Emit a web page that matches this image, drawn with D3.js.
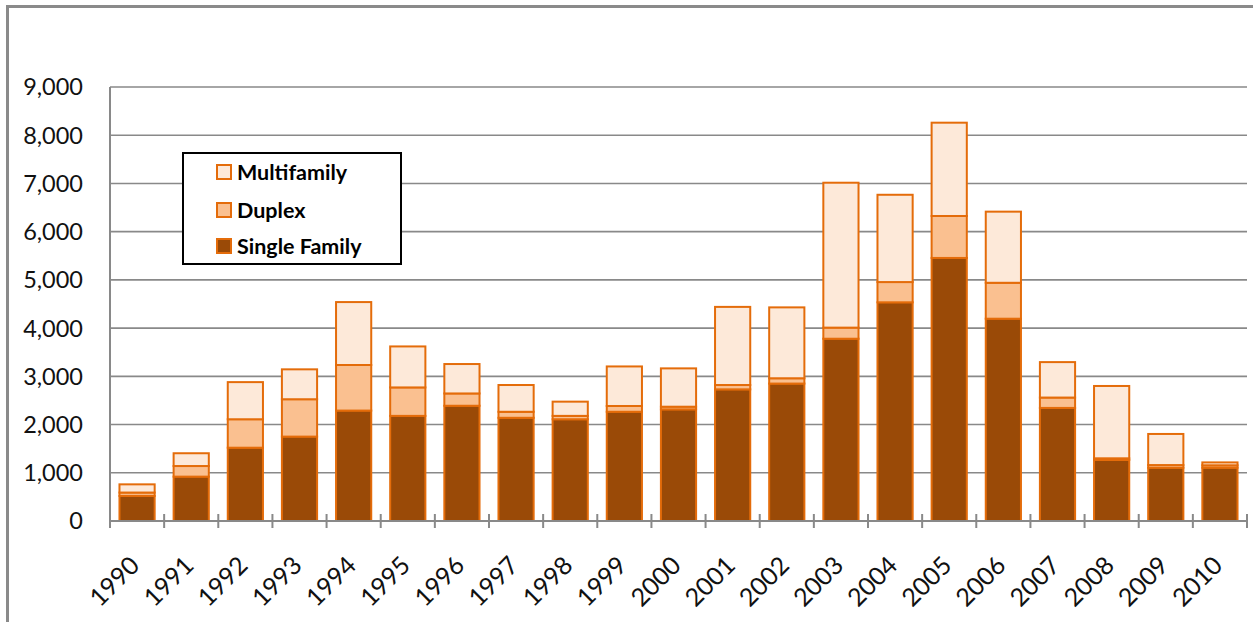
<!DOCTYPE html>
<html>
<head>
<meta charset="utf-8">
<script src="https://cdn.jsdelivr.net/npm/d3@7"></script>
<style>
  html, body { margin: 0; padding: 0; background: #fff; }
  svg { display: block; font-family: Lato, "Open Sans", sans-serif; }
</style>
</head>
<body>
<svg id="chart" width="1253" height="622"></svg>
<script>
const years = ["1990","1991","1992","1993","1994","1995","1996","1997","1998","1999","2000","2001","2002","2003","2004","2005","2006","2007","2008","2009","2010"];
const singleFamily = [520, 920, 1520, 1750, 2290, 2180, 2390, 2140, 2110, 2265, 2315, 2730, 2850, 3780, 4535, 5455, 4195, 2345, 1265, 1105, 1105];
const duplex       = [70, 220, 590, 775, 945, 590, 255, 125, 70, 120, 55, 90, 110, 230, 420, 870, 745, 215, 35, 55, 50];
const multifamily  = [170, 265, 770, 620, 1305, 850, 610, 555, 295, 820, 795, 1620, 1470, 3005, 1810, 1935, 1475, 735, 1500, 645, 60];
const yTicks = [0, 1000, 2000, 3000, 4000, 5000, 6000, 7000, 8000, 9000];
const seriesNames = ["Single Family", "Duplex", "Multifamily"];
const seriesColors = ["#9A4A07", "#FAC090", "#FDE9D9"];
const legendOrder = ["Multifamily", "Duplex", "Single Family"];

(function () {
const svg = d3.select("#chart");
const stroke = "#E46C0A";
const gridColor = "#898989";

// outer frame (chart area border, extends past the viewport)
svg.append("rect").attr("x", 7.5).attr("y", 6.5).attr("width", 1400).attr("height", 800)
  .attr("fill", "none").attr("stroke", "#8a8a8a").attr("stroke-width", 3);

const pLeft = 110, pRight = 1247, pTop = 87, pBottom = 521;
const x = d3.scaleBand().domain(years).range([pLeft, pRight]).paddingInner(0.35).paddingOuter(0.175);
const xb = d3.scaleBand().domain(years).range([pLeft, pRight]).padding(0);
const y = d3.scaleLinear().domain([0, 9000]).range([pBottom, pTop]);

// gridlines
svg.append("g").selectAll("line").data(yTicks.filter(d => d > 0)).join("line")
  .attr("x1", pLeft).attr("x2", pRight)
  .attr("y1", d => y(d)).attr("y2", d => y(d))
  .attr("stroke", gridColor).attr("stroke-width", 1.6);

// y labels
svg.append("g").selectAll("text").data(yTicks).join("text")
  .attr("x", 83).attr("y", d => y(d)).attr("dy", "0.36em")
  .attr("text-anchor", "end").attr("font-size", 23.5).attr("fill", "#111")
  .text(d => d3.format(",")(d));

// stacked data
const rows = years.map((yr, i) => ({ year: yr, "Single Family": singleFamily[i], "Duplex": duplex[i], "Multifamily": multifamily[i] }));
const stack = d3.stack().keys(seriesNames)(rows);

const g = svg.append("g");
stack.forEach((layer, li) => {
  g.append("g").selectAll("rect").data(layer).join("rect")
    .attr("x", d => x(d.data.year))
    .attr("width", x.bandwidth())
    .attr("y", d => y(d[1]))
    .attr("height", d => y(d[0]) - y(d[1]))
    .attr("fill", seriesColors[li])
    .attr("stroke", stroke).attr("stroke-width", 2);
});

// axes lines
svg.append("line").attr("x1", pLeft).attr("x2", pLeft).attr("y1", pTop).attr("y2", pBottom + 7)
  .attr("stroke", gridColor).attr("stroke-width", 2);
svg.append("line").attr("x1", pLeft).attr("x2", pRight).attr("y1", pBottom).attr("y2", pBottom)
  .attr("stroke", gridColor).attr("stroke-width", 2.2);
// tick marks at category boundaries
const bounds = years.map(d => xb(d)).concat([pRight]);
svg.append("g").selectAll("line").data(bounds).join("line")
  .attr("x1", d => d).attr("x2", d => d)
  .attr("y1", pBottom - 7).attr("y2", pBottom + 7)
  .attr("stroke", gridColor).attr("stroke-width", 2);

// x labels
svg.append("g").selectAll("text").data(years).join("text")
  .attr("transform", d => `translate(${xb(d) + xb.bandwidth() / 2 + 4},567) rotate(-45)`)
  .attr("text-anchor", "end").attr("font-size", 25).attr("fill", "#111")
  .text(d => d);

// legend
const lg = svg.append("g");
lg.append("rect").attr("x", 183).attr("y", 153).attr("width", 218).attr("height", 111)
  .attr("fill", "#fff").attr("stroke", "#000").attr("stroke-width", 2);
const legendY = [172, 210, 246];
legendOrder.forEach((name, i) => {
  const ci = seriesNames.indexOf(name);
  lg.append("rect").attr("x", 217).attr("y", legendY[i] - 7).attr("width", 14).attr("height", 14)
    .attr("fill", seriesColors[ci]).attr("stroke", stroke).attr("stroke-width", 2);
  lg.append("text").attr("x", 237).attr("y", legendY[i]).attr("dy", "0.36em")
    .attr("font-size", 21.5).attr("font-weight", "bold").attr("fill", "#000").text(name);
});
})();
</script>
</body>
</html>
